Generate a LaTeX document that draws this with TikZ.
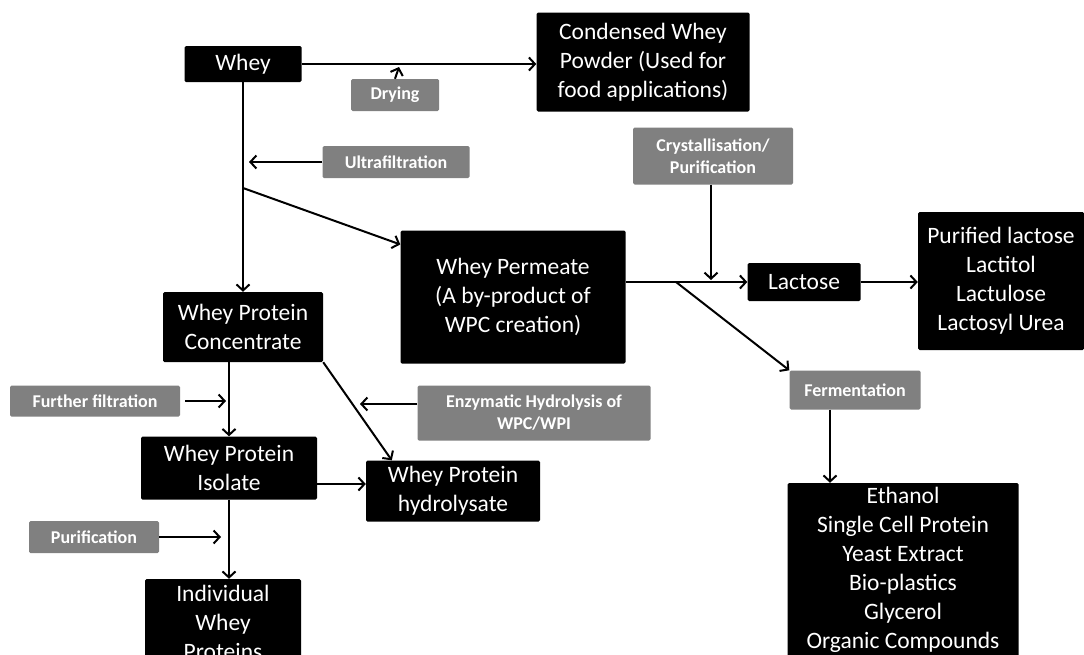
\documentclass[tikz,border=0pt]{standalone}
\usepackage{fontspec}
\setmainfont{Carlito}
\usetikzlibrary{arrows.meta}

\begin{document}
\begin{tikzpicture}[x=1pt,y=-1pt,
	blk/.style={fill=black,text=white,align=center,inner sep=0pt,rounded corners=1.5pt,font=\fontsize{23.5}{29}\selectfont},
	gry/.style={fill=black!50,text=white,align=center,inner sep=0pt,rounded corners=1.5pt,font=\bfseries\fontsize{18}{22}\selectfont},
	arr/.style={line width=2pt,-{Straight Barb[length=6pt,width=13pt,line width=2pt]}}]
\clip (0,0) rectangle (1084,654);
\path (243,64) node[blk,minimum width=117,minimum height=36] (whey) {Whey}
		(643,62) node[blk,minimum width=213,minimum height=99] (cwp) {Condensed Whey\\Powder (Used for\\food applications)}
		(395,95) node[gry,minimum width=88,minimum height=32] (dry) {Drying}
		(396,162) node[gry,minimum width=147,minimum height=32] (uf) {Ultrafiltration}
		(513,297) node[blk,minimum width=225,minimum height=133] (perm) {Whey Permeate\\(A by-product of\\WPC creation)}
		(243,327) node[blk,minimum width=160,minimum height=70] (wpc) {Whey Protein\\Concentrate}
		(95,401) node[gry,minimum width=170,minimum height=31] (ff) {Further filtration}
		(534,413) node[gry,minimum width=233,minimum height=55] (enz) {Enzymatic Hydrolysis of\\WPC/WPI}
		(229,468) node[blk,minimum width=176,minimum height=63] (wpi) {Whey Protein\\Isolate}
		(453,491) node[blk,minimum width=174,minimum height=61] (wph) {Whey Protein\\hydrolysate}
		(94,537) node[gry,minimum width=130,minimum height=32] (pur) {Purification}
		(223,622) node[blk,minimum width=156,minimum height=86] (iwp) {Individual\\Whey\\Proteins}
		(713,156) node[gry,minimum width=160,minimum height=57] (cry) {Crystallisation/\\Purification}
		(804,282) node[blk,minimum width=113,minimum height=38] (lac) {Lactose}
		(1001,281) node[blk,minimum width=166,minimum height=138] (plac) {Purified lactose\\Lactitol\\Lactulose\\Lactosyl Urea}
		(855,390) node[gry,minimum width=131,minimum height=39] (fer) {Fermentation}
		(903,570) node[blk,minimum width=231,minimum height=174] (prod) {Ethanol\\Single Cell Protein\\Yeast Extract\\Bio-plastics\\Glycerol\\Organic Compounds};

\coordinate (dry+) at (399,67);
\coordinate (uf+) at (249,162);
\coordinate (br) at (243,188);
\coordinate (ff+) at (226,401);
\coordinate (enz+) at (360,404);
\coordinate (pur+) at (221,537);
\coordinate (cry+) at (711,280);
\coordinate (fer-) at (676,282);

\draw[arr] (whey.east) -- (whey.east -| cwp.west);
\draw[arr] (node cs:name=dry,anchor=north) -- (dry+);
\draw[arr] (node cs:name=whey,anchor=south) -- (node cs:name=wpc,anchor=north);
\draw[arr] (node cs:name=uf,anchor=west) -- (uf+);
\draw[arr] (br) -- (node cs:name=perm,anchor=155);
\draw[arr] (wpc.south -| wpi.north) -- (node cs:name=wpi,anchor=north);
\draw[arr,shorten <=5pt] (node cs:name=ff,anchor=east) -- (ff+);
\draw[arr] (node cs:name=wpc,anchor=south east) -- ([xshift=26pt]wph.north west);
\draw[arr] (enz.west |- enz+) -- (enz+);
\draw[arr] ([yshift=-16pt]wpi.east) -- ([yshift=-16pt]wpi.east -| wph.west);
\draw[arr] (node cs:name=pur,anchor=east) -- (pur+);
\draw[arr] (node cs:name=wpi,anchor=south) -- (wpi.south |- iwp.north);
\draw[arr] (perm.east |- lac.west) -- (node cs:name=lac,anchor=west);
\draw[arr] (cry.south -| cry+) -- (cry+);
\draw[arr] (node cs:name=lac,anchor=east) -- (lac.east -| plac.west);
\draw[arr] (fer-) -- (node cs:name=fer,anchor=north west);
\draw[arr] ([xshift=-25pt]fer.south) -- ([xshift=-25pt]fer.south |- prod.north);
\end{tikzpicture}
\end{document}
